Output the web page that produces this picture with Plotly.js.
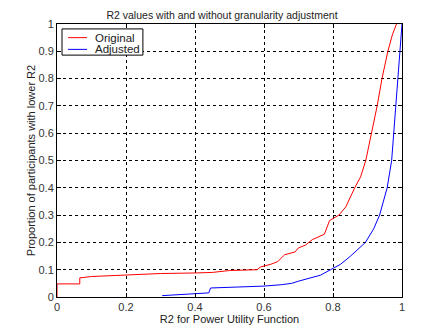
<!DOCTYPE html>
<html>
<head>
<meta charset="utf-8">
<script src="https://cdn.plot.ly/plotly-3.0.1.min.js"></script>
<style>html,body{margin:0;padding:0;background:#fff;}#chart{width:444px;height:333px;}</style>
</head>
<body>
<div id="chart"></div>
<script>
var originalX = [0, 0, 0.066, 0.066, 0.1, 0.2, 0.3, 0.4, 0.45, 0.5, 0.58, 0.59, 0.62, 0.64, 0.66, 0.69, 0.7, 0.72, 0.74, 0.775, 0.79, 0.817, 0.837, 0.863, 0.88, 0.895, 0.912, 0.928, 0.942, 0.959, 0.972, 0.984];
var originalY = [0, 0.048, 0.048, 0.07, 0.075, 0.08, 0.086, 0.088, 0.09, 0.097, 0.1, 0.11, 0.12, 0.13, 0.155, 0.165, 0.18, 0.19, 0.21, 0.23, 0.28, 0.3, 0.33, 0.4, 0.44, 0.5, 0.6, 0.7, 0.8, 0.9, 0.96, 1.0];
var adjustedX = [0.305, 0.38, 0.44, 0.445, 0.5, 0.58, 0.6, 0.65, 0.68, 0.7, 0.736, 0.764, 0.793, 0.822, 0.851, 0.885, 0.894, 0.918, 0.935, 0.957, 0.970, 0.976, 0.982, 0.9875, 0.993, 1.0];
var adjustedY = [0.005, 0.01, 0.015, 0.033, 0.035, 0.037, 0.04, 0.045, 0.05, 0.058, 0.07, 0.08, 0.1, 0.12, 0.15, 0.19, 0.2, 0.25, 0.3, 0.4, 0.5, 0.6, 0.7, 0.8, 0.9, 1.0];
var seriesNames = ["Original", "Adjusted"];
var seriesColors = ["#ff0000", "#0000ff"];
var xTicks = [0, 0.2, 0.4, 0.6, 0.8, 1];
var xTickLabels = ["0", "0.2", "0.4", "0.6", "0.8", "1"];
var yTicks = [0, 0.1, 0.2, 0.3, 0.4, 0.5, 0.6, 0.7, 0.8, 0.9, 1];
var yTickLabels = ["0", "0.1", "0.2", "0.3", "0.4", "0.5", "0.6", "0.7", "0.8", "0.9", "1"];

var font = "Liberation Sans, Arial, sans-serif";
var traces = [
  {x: originalX, y: originalY, mode: "lines", name: seriesNames[0], line: {color: seriesColors[0], width: 1}},
  {x: adjustedX, y: adjustedY, mode: "lines", name: seriesNames[1], line: {color: seriesColors[1], width: 1}}
];
var axisCommon = {
  showline: true, linecolor: "#000", linewidth: 1, mirror: "ticks",
  ticks: "inside", ticklen: 4, tickcolor: "#000",
  showgrid: true, gridcolor: "#000", griddash: "dot", gridwidth: 1,
  zeroline: false, tickfont: {family: font, size: 11, color: "#333"}
};
// compact MATLAB-style legend box (drawn in paper coordinates)
var legX0 = 0.0145, legX1 = 0.249, legY0 = 0.886, legY1 = 0.982;
var legRows = [0.950, 0.907];
var shapes = [{type: "rect", xref: "paper", yref: "paper", x0: legX0, x1: legX1, y0: legY0, y1: legY1,
  line: {color: "#000", width: 1}, fillcolor: "#fff", layer: "above"}];
var annotations = [];
for (var i = 0; i < seriesNames.length; i++) {
  shapes.push({type: "line", xref: "paper", yref: "paper", x0: 0.032, x1: 0.087, y0: legRows[i], y1: legRows[i],
    line: {color: seriesColors[i], width: 1}, layer: "above"});
  annotations.push({xref: "paper", yref: "paper", x: 0.105, y: legRows[i], xanchor: "left", yanchor: "middle",
    text: seriesNames[i], showarrow: false, font: {family: font, size: 11.5, color: "#222"}});
}
var layout = {
  width: 444, height: 333,
  margin: {l: 57, r: 42, t: 24, b: 36},
  paper_bgcolor: "#fff", plot_bgcolor: "#fff",
  font: {family: font, size: 11, color: "#222"},
  title: {text: "R2 values with and without granularity adjustment", font: {family: font, size: 10.5, color: "#222"}, x: 0.5, xanchor: "center", y: 0.955, yanchor: "middle"},
  xaxis: Object.assign({}, axisCommon, {range: [0, 1], tickvals: xTicks, ticktext: xTickLabels,
    title: {text: "R2 for Power Utility Function", font: {family: font, size: 11, color: "#222"}, standoff: 2}}),
  yaxis: Object.assign({}, axisCommon, {range: [0, 1], tickvals: yTicks, ticktext: yTickLabels,
    title: {text: "Proportion of participants with lower R2", font: {family: font, size: 11, color: "#222"}, standoff: 0}}),
  showlegend: false,
  shapes: shapes,
  annotations: annotations
};
Plotly.newPlot("chart", traces, layout, {staticPlot: true, displayModeBar: false});
</script>
</body>
</html>
